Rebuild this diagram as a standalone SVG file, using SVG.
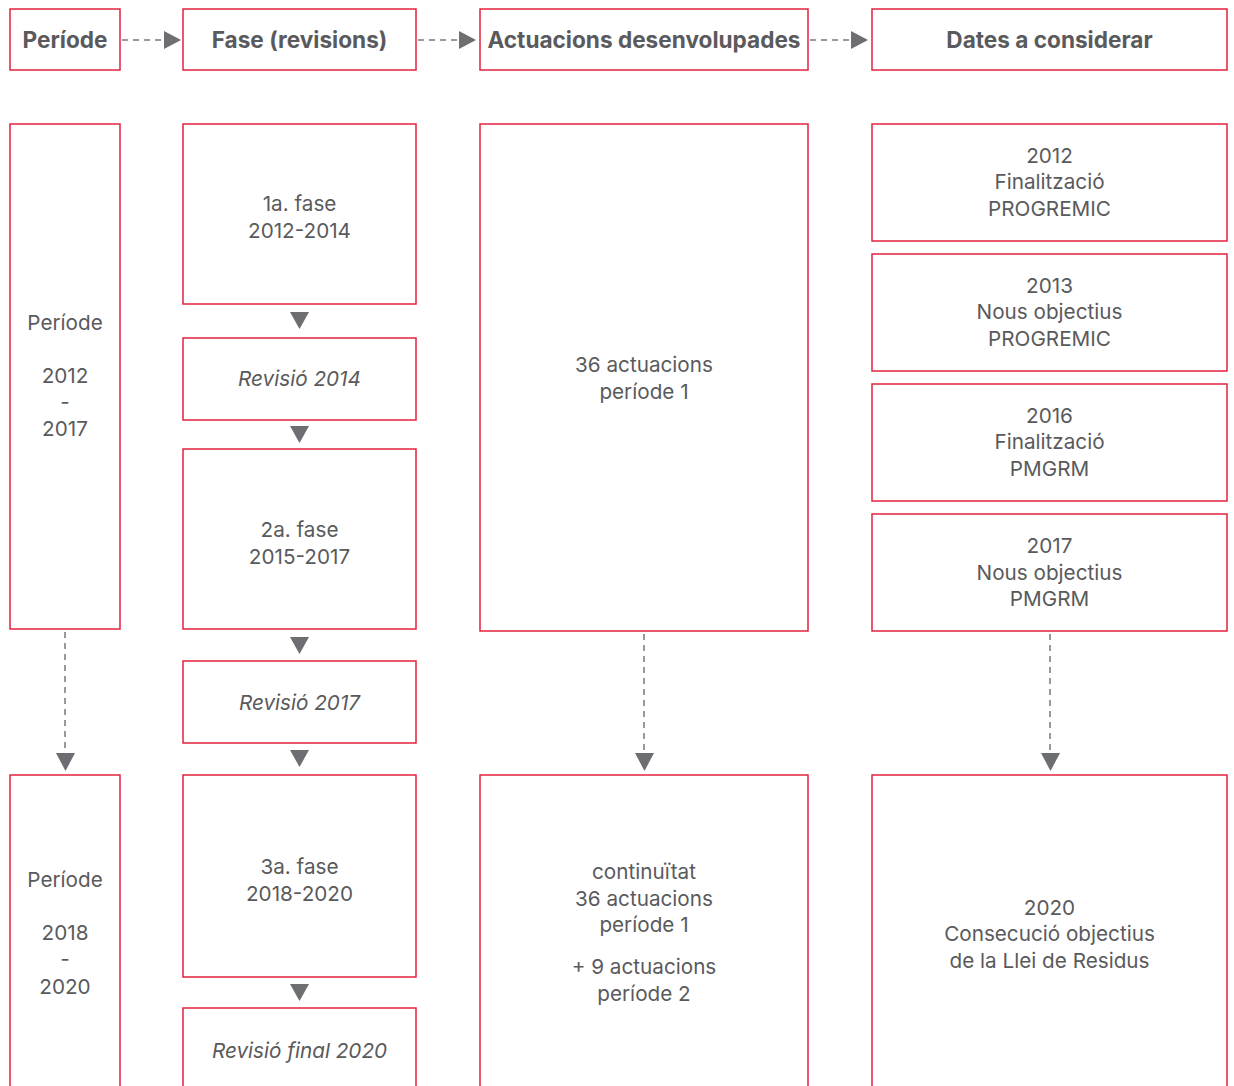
<svg xmlns="http://www.w3.org/2000/svg" width="1234" height="1086" viewBox="0 0 1234 1086">
<defs>
<style>
.box{fill:#fff;stroke:#e5203c;stroke-width:1.5}
.t{font-family:Inter,Roboto,"Liberation Sans",sans-serif;font-size:20.7px;fill:#5a5a5c;text-anchor:middle}
.h{font-family:Inter,Roboto,"Liberation Sans",sans-serif;font-size:22.6px;font-weight:bold;fill:#5a5a5c;text-anchor:middle}
.i{font-style:italic}
.dash{stroke:#77787b;stroke-width:1.5;stroke-dasharray:6 5;fill:none}
.tri{fill:#6d6e71}
</style>
</defs>
<rect width="1234" height="1086" fill="#fff"/>
<g id="connectors">
<line class="dash" x1="122" y1="40" x2="164" y2="40"/>
<polygon class="tri" points="164,31 181,40 164,49"/>
<line class="dash" x1="418" y1="40" x2="459" y2="40"/>
<polygon class="tri" points="459,31 476,40 459,49"/>
<line class="dash" x1="810" y1="40" x2="851" y2="40"/>
<polygon class="tri" points="851,31 868,40 851,49"/>
<line class="dash" x1="65" y1="632" x2="65" y2="753"/>
<polygon class="tri" points="56,753 75,753 65.5,771"/>
<line class="dash" x1="644" y1="634" x2="644" y2="753"/>
<polygon class="tri" points="635,753 654,753 644.5,771"/>
<line class="dash" x1="1050" y1="634" x2="1050" y2="753"/>
<polygon class="tri" points="1041,753 1060,753 1050.5,771"/>
<polygon class="tri" points="290,312 309,312 299.5,329"/>
<polygon class="tri" points="290,426 309,426 299.5,443"/>
<polygon class="tri" points="290,637 309,637 299.5,654"/>
<polygon class="tri" points="290,750 309,750 299.5,767"/>
<polygon class="tri" points="290,984 309,984 299.5,1001"/>
</g>
<g id="h-periode"><rect class="box" x="10" y="9" width="110" height="61"/><text class="h" x="65" y="48">Període</text></g>
<g id="h-fase"><rect class="box" x="183" y="9" width="233" height="61"/><text class="h" x="299.5" y="48">Fase (revisions)</text></g>
<g id="h-actuacions"><rect class="box" x="480" y="9" width="328" height="61"/><text class="h" x="644" y="48">Actuacions desenvolupades</text></g>
<g id="h-dates"><rect class="box" x="872" y="9" width="355" height="61"/><text class="h" x="1049.5" y="48">Dates a considerar</text></g>

<g id="periode1"><rect class="box" x="10" y="124" width="110" height="505"/>
<text class="t" x="65" y="330">Període</text><text class="t" x="65" y="383">2012</text><text class="t" x="65" y="409">-</text><text class="t" x="65" y="436">2017</text></g>
<g id="periode2"><rect class="box" x="10" y="775" width="110" height="320"/>
<text class="t" x="65" y="887">Període</text><text class="t" x="65" y="940">2018</text><text class="t" x="65" y="966">-</text><text class="t" x="65" y="994">2020</text></g>

<g id="fase1"><rect class="box" x="183" y="124" width="233" height="180"/><text class="t" x="299.5" y="211">1a. fase</text><text class="t" x="299.5" y="238">2012-2014</text></g>
<g id="rev2014"><rect class="box" x="183" y="338" width="233" height="82"/><text class="t i" x="299.5" y="386">Revisió 2014</text></g>
<g id="fase2"><rect class="box" x="183" y="449" width="233" height="180"/><text class="t" x="299.5" y="537">2a. fase</text><text class="t" x="299.5" y="564">2015-2017</text></g>
<g id="rev2017"><rect class="box" x="183" y="661" width="233" height="82"/><text class="t i" x="299.5" y="710">Revisió 2017</text></g>
<g id="fase3"><rect class="box" x="183" y="775" width="233" height="202"/><text class="t" x="299.5" y="874">3a. fase</text><text class="t" x="299.5" y="901">2018-2020</text></g>
<g id="revfinal"><rect class="box" x="183" y="1008" width="233" height="90"/><text class="t i" x="299.5" y="1058">Revisió final 2020</text></g>

<g id="act1"><rect class="box" x="480" y="124" width="328" height="507"/><text class="t" x="644" y="372">36 actuacions</text><text class="t" x="644" y="399">període 1</text></g>
<g id="act2"><rect class="box" x="480" y="775" width="328" height="320"/>
<text class="t" x="644" y="879">continuïtat</text><text class="t" x="644" y="906">36 actuacions</text><text class="t" x="644" y="932">període 1</text>
<text class="t" x="644" y="974">+ 9 actuacions</text><text class="t" x="644" y="1001">període 2</text></g>

<g id="d2012"><rect class="box" x="872" y="124" width="355" height="117"/><text class="t" x="1049.5" y="163">2012</text><text class="t" x="1049.5" y="189">Finalització</text><text class="t" x="1049.5" y="216">PROGREMIC</text></g>
<g id="d2013"><rect class="box" x="872" y="254" width="355" height="117"/><text class="t" x="1049.5" y="293">2013</text><text class="t" x="1049.5" y="319">Nous objectius</text><text class="t" x="1049.5" y="346">PROGREMIC</text></g>
<g id="d2016"><rect class="box" x="872" y="384" width="355" height="117"/><text class="t" x="1049.5" y="423">2016</text><text class="t" x="1049.5" y="449">Finalització</text><text class="t" x="1049.5" y="476">PMGRM</text></g>
<g id="d2017"><rect class="box" x="872" y="514" width="355" height="117"/><text class="t" x="1049.5" y="553">2017</text><text class="t" x="1049.5" y="580">Nous objectius</text><text class="t" x="1049.5" y="606">PMGRM</text></g>
<g id="d2020"><rect class="box" x="872" y="775" width="355" height="320"/><text class="t" x="1049.5" y="915">2020</text><text class="t" x="1049.5" y="941">Consecució objectius</text><text class="t" x="1049.5" y="968">de la Llei de Residus</text></g>
</svg>
